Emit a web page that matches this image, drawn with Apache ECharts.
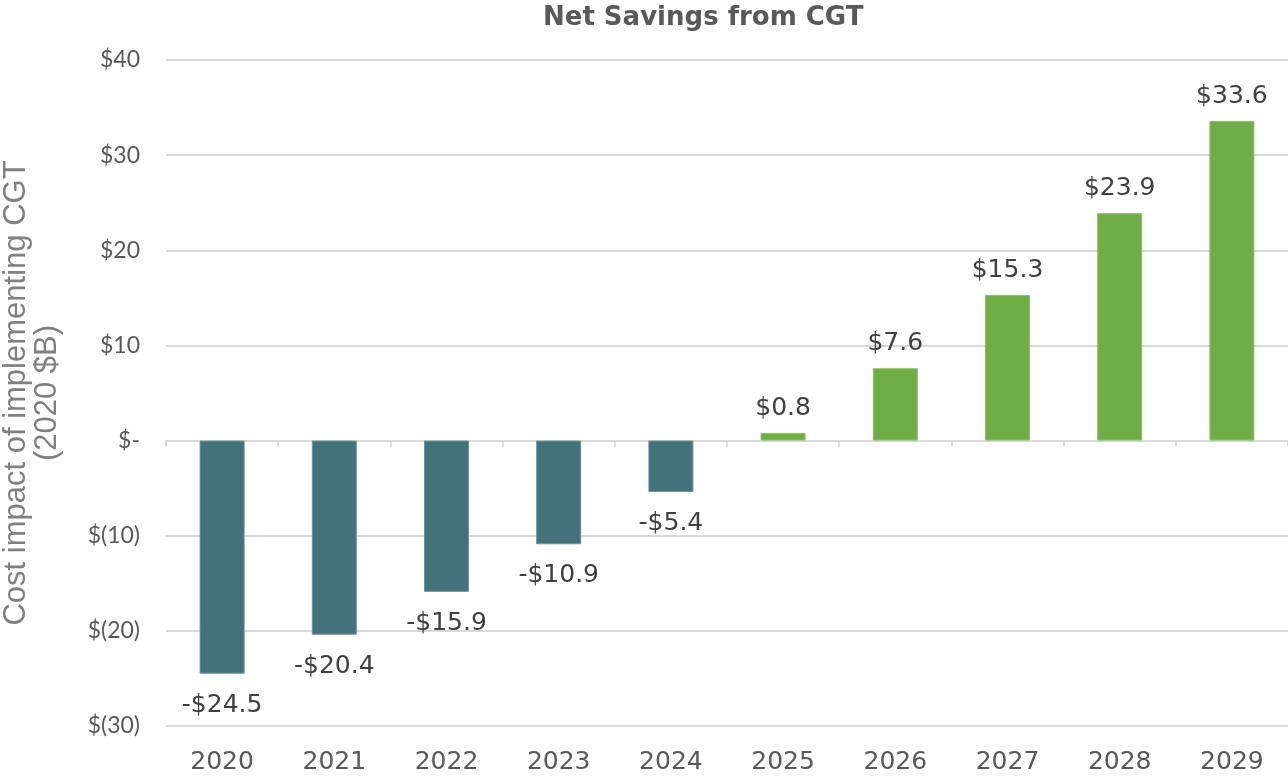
<!DOCTYPE html>
<html>
<head>
<meta charset="utf-8">
<script src="https://cdn.jsdelivr.net/npm/echarts@6/dist/echarts.min.js"></script>
<style>
  html, body { margin: 0; padding: 0; background: #fff; }
  #chart { width: 1288px; height: 776px; }
</style>
</head>
<body>
<div id="chart"></div>
<script>
// chart data
var years = ['2020', '2021', '2022', '2023', '2024', '2025', '2026', '2027', '2028', '2029'];
var netSavings = [-24.5, -20.4, -15.9, -10.9, -5.4, 0.8, 7.6, 15.3, 23.9, 33.6];
var yTicks = [-30, -20, -10, 0, 10, 20, 30, 40];

function yLabel(v) {
    if (v > 0) return '$' + v;
    if (v === 0) return '$-';
    return '$(' + (-v) + ')';
}

function valueLabel(v) {
    return v < 0 ? '-$' + (-v).toFixed(1) : '$' + v.toFixed(1);
}

var chart = echarts.init(document.getElementById('chart'));
chart.setOption({
    backgroundColor: '#fff',
    animation: false,
    title: {
        text: 'Net Savings from CGT',
        left: 538,
        top: 0,
        textStyle: {
            fontFamily: 'DejaVu Sans',
            fontSize: 26,
            fontWeight: 'bold',
            color: '#595959'
        }
    },
    grid: {
        left: 166,
        right: 0,
        top: 60,
        bottom: 50,
        containLabel: false,
        outerBoundsMode: 'none'
    },
    xAxis: [
        {
            type: 'category',
            data: years,
            axisLine: { onZero: true, lineStyle: { color: '#d9d9d9', width: 2 } },
            axisTick: { show: true, length: 6, lineStyle: { color: '#d9d9d9', width: 2 } },
            axisLabel: { show: false },
            splitLine: { show: false }
        },
        {
            type: 'category',
            data: years,
            position: 'bottom',
            axisLine: { show: false, onZero: false },
            axisTick: { show: false },
            axisLabel: {
                margin: 24,
                fontFamily: 'DejaVu Sans',
                fontSize: 25,
                color: '#595959'
            }
        }
    ],
    yAxis: {
        type: 'value',
        min: yTicks[0],
        max: yTicks[yTicks.length - 1],
        interval: 10,
        name: 'Cost impact of implementing CGT\n(2020 $B)',
        nameLocation: 'middle',
        nameGap: 103,
        nameRotate: 90,
        nameTextStyle: {
            fontFamily: 'Liberation Sans',
            fontSize: 31,
            lineHeight: 31,
            color: '#808080'
        },
        axisLine: { show: false },
        axisTick: { show: false },
        axisLabel: {
            margin: 26,
            fontFamily: 'Lato',
            fontSize: 23,
            color: '#595959',
            formatter: yLabel
        },
        splitLine: { lineStyle: { color: '#d9d9d9', width: 2 } }
    },
    series: [
        {
            type: 'bar',
            xAxisIndex: 0,
            barWidth: 45,
            data: netSavings.map(function (v) {
                return {
                    value: v,
                    itemStyle: {
                        color: v < 0 ? '#44727a' : '#70ad47',
                        borderColor: v < 0 ? '#6c9197' : '#8cc06a',
                        borderWidth: 1
                    },
                    label: { position: v < 0 ? 'bottom' : 'top', distance: v < 0 ? 19 : 12 }
                };
            }),
            label: {
                show: true,
                fontFamily: 'DejaVu Sans',
                fontSize: 25,
                color: '#404040',
                formatter: function (p) { return valueLabel(p.value); }
            }
        }
    ]
});
</script>
</body>
</html>
